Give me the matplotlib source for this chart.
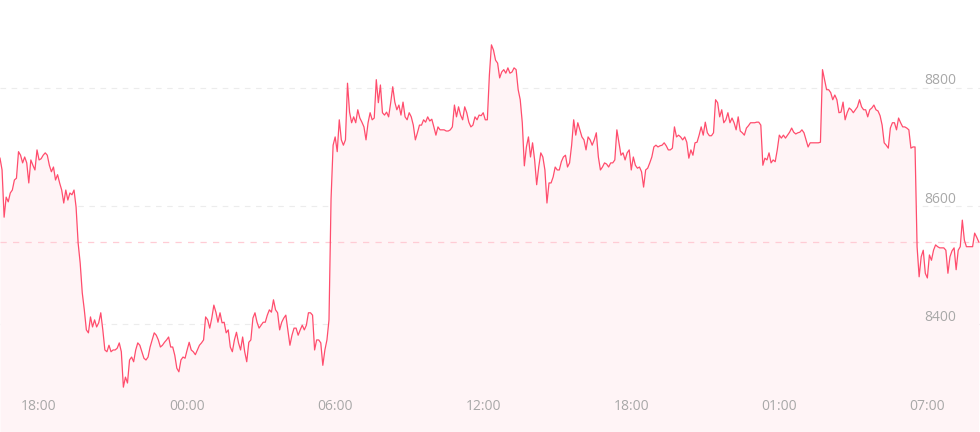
import matplotlib
matplotlib.use("Agg")
import matplotlib.pyplot as plt
import matplotlib.transforms as mtransforms

# 5-minute closes, first bar at 16:25 (one row = one hour)
prices = [
    8681, 8661, 8581, 8615, 8607, 8622, 8627, 8644, 8647, 8692, 8686, 8673,
    8683, 8673, 8639, 8678, 8669, 8661, 8695, 8678, 8680, 8686, 8690, 8686,
    8669, 8658, 8666, 8644, 8653, 8639, 8627, 8605, 8627, 8610, 8622, 8619,
    8627, 8598, 8537, 8503, 8453, 8424, 8390, 8385, 8412, 8395, 8407, 8395,
    8402, 8419, 8390, 8356, 8353, 8364, 8353, 8356, 8356, 8359, 8368, 8353,
    8293, 8310, 8300, 8339, 8344, 8336, 8356, 8368, 8364, 8353, 8342, 8339,
    8344, 8361, 8373, 8385, 8381, 8373, 8361, 8364, 8369, 8373, 8378, 8361,
    8361, 8347, 8325, 8319, 8339, 8344, 8342, 8356, 8369, 8356, 8353, 8348,
    8356, 8364, 8368, 8373, 8412, 8407, 8393, 8410, 8432, 8420, 8403, 8419,
    8402, 8403, 8385, 8390, 8361, 8353, 8373, 8386, 8368, 8356, 8378, 8353,
    8336, 8369, 8373, 8410, 8419, 8403, 8393, 8398, 8403, 8403, 8415, 8424,
    8420, 8441, 8424, 8419, 8390, 8403, 8410, 8415, 8390, 8364, 8381, 8393,
    8393, 8381, 8390, 8398, 8390, 8398, 8419, 8419, 8415, 8356, 8373, 8373,
    8368, 8330, 8356, 8373, 8407, 8612, 8703, 8717, 8692, 8746, 8712, 8703,
    8712, 8808, 8759, 8741, 8751, 8741, 8763, 8749, 8742, 8734, 8712, 8741,
    8758, 8746, 8749, 8814, 8775, 8805, 8758, 8754, 8759, 8751, 8775, 8802,
    8776, 8763, 8771, 8754, 8776, 8751, 8746, 8758, 8751, 8737, 8712, 8724,
    8737, 8737, 8746, 8742, 8751, 8744, 8747, 8734, 8720, 8734, 8729, 8729,
    8729, 8727, 8727, 8729, 8734, 8771, 8751, 8768, 8754, 8746, 8768, 8758,
    8742, 8734, 8737, 8751, 8746, 8754, 8753, 8758, 8746, 8746, 8822, 8873,
    8864, 8847, 8842, 8817, 8827, 8831, 8825, 8834, 8825, 8827, 8834, 8831,
    8797, 8780, 8741, 8668, 8700, 8717, 8683, 8707, 8678, 8636, 8666, 8690,
    8683, 8661, 8605, 8639, 8639, 8649, 8666, 8661, 8661, 8675, 8683, 8686,
    8666, 8673, 8703, 8746, 8720, 8741, 8729, 8717, 8712, 8695, 8717, 8712,
    8703, 8712, 8724, 8683, 8661, 8666, 8673, 8671, 8666, 8673, 8673, 8678,
    8729, 8707, 8686, 8690, 8678, 8690, 8695, 8661, 8683, 8669, 8664, 8666,
    8658, 8632, 8661, 8664, 8673, 8683, 8700, 8703, 8700, 8702, 8703, 8707,
    8702, 8695, 8695, 8698, 8734, 8717, 8720, 8717, 8712, 8717, 8708, 8681,
    8695, 8686, 8707, 8708, 8720, 8734, 8720, 8742, 8724, 8719, 8719, 8724,
    8780, 8775, 8751, 8763, 8741, 8746, 8758, 8741, 8749, 8741, 8729, 8751,
    8727, 8724, 8720, 8732, 8736, 8741, 8741, 8741, 8742, 8742, 8737, 8669,
    8681, 8678, 8690, 8673, 8678, 8675, 8695, 8720, 8715, 8720, 8715, 8720,
    8725, 8732, 8725, 8722, 8724, 8725, 8729, 8724, 8712, 8700, 8707, 8707,
    8707, 8707, 8707, 8708, 8831, 8814, 8797, 8797, 8792, 8780, 8788, 8780,
    8758, 8759, 8776, 8746, 8758, 8766, 8763, 8758, 8763, 8768, 8780, 8768,
    8763, 8763, 8751, 8763, 8766, 8771, 8763, 8761, 8753, 8737, 8707, 8703,
    8698, 8732, 8741, 8741, 8729, 8749, 8741, 8734, 8734, 8732, 8729, 8698,
    8700, 8700, 8531, 8480, 8514, 8525, 8486, 8478, 8517, 8508, 8525, 8534,
    8531, 8529, 8529, 8529, 8525, 8486, 8514, 8524, 8529, 8492, 8525, 8531,
    8576, 8542, 8531, 8531, 8531, 8531, 8554, 8547, 8539,
]
prev_close = 8539

y_ticks = [8400, 8600, 8800]
x_tick_bars = [19, 91, 163, 235, 307, 379, 451]
x_tick_labels = ["18:00", "00:00", "06:00", "12:00", "18:00", "01:00", "07:00"]

line_color = "#ff4d6d"
fill_color = "#fff4f6"
label_color = "#a8a8a8"

plt.rcParams["font.family"] = ["Open Sans", "DejaVu Sans"]

fig = plt.figure(figsize=(9.8, 4.32), dpi=100)
ax = fig.add_axes([0, 0, 1, 1])
ymin, ymax = 8217, 8949
bars = list(range(len(prices)))

ax.fill_between(bars, prices, ymin, color=fill_color, lw=0, zorder=1)
ax.plot(bars, prices, color=line_color, lw=0.9, zorder=3)

for v in y_ticks:
    ax.axhline(v, color="#ececec", lw=0.8, ls=(0, (5, 5)), zorder=0)
ax.axhline(prev_close, color="#ffccd5", lw=0.9, ls=(0, (5, 5)), zorder=2)

# price labels sit just above their grid lines, right side
trans = mtransforms.blended_transform_factory(ax.transAxes, ax.transData)
for v in y_ticks:
    ax.annotate(str(v), xy=(0.9755, v), xycoords=trans, xytext=(0, 5),
                textcoords="offset points", ha="right", va="center",
                fontsize=10, color=label_color, zorder=4)

trans_x = mtransforms.blended_transform_factory(ax.transData, ax.transAxes)
for b, lab in zip(x_tick_bars, x_tick_labels):
    ax.text(b, 0.06, lab, transform=trans_x, ha="center", va="center",
            fontsize=10, color=label_color, zorder=4)

ax.set_xlim(0, len(prices) - 0.4)
ax.set_ylim(ymin, ymax)
ax.axis("off")

fig.savefig("out.png", dpi=100, facecolor="white")
